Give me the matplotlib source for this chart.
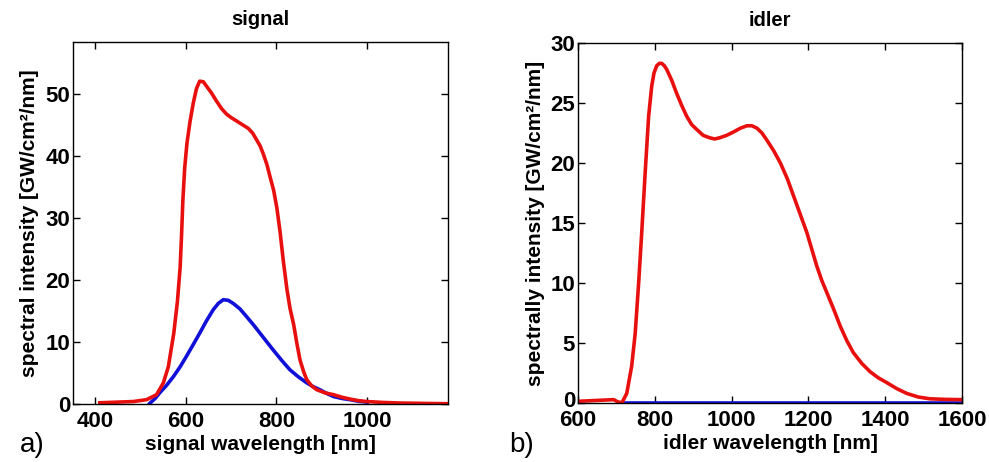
import numpy as np
import matplotlib
matplotlib.use("Agg")
import matplotlib.pyplot as plt
from matplotlib.transforms import ScaledTranslation

plt.rcParams['font.family'] = ['Liberation Sans', 'DejaVu Sans']
plt.rcParams['font.weight'] = 'bold'

# signal panel (a)
sig_red_x = [411, 485, 514, 536, 551, 562, 574, 582, 588, 591, 594, 598, 603, 610, 617, 624, 631,
             639, 646, 657, 668, 679, 690, 701, 712, 725, 738, 748, 756, 764, 771, 779, 786, 794,
             801, 808, 815, 823, 830, 838, 845, 852, 860, 867, 878, 889, 907, 926, 944, 962, 980,
             999, 1036, 1073, 1125, 1178]
sig_red_y = [0.2, 0.4, 0.7, 1.5, 3.4, 6.0, 11.4, 16.5, 22.0, 27.0, 32.8, 38.0, 42.0, 45.6, 48.5,
             50.8, 52.0, 51.9, 51.2, 50.1, 48.8, 47.6, 46.7, 46.1, 45.6, 45.0, 44.4, 43.6, 42.6,
             41.6, 40.3, 38.6, 36.6, 34.4, 31.6, 27.8, 23.2, 18.6, 15.4, 12.8, 9.8, 7.1, 5.2, 3.9,
             2.9, 2.3, 1.8, 1.5, 1.1, 0.8, 0.55, 0.4, 0.25, 0.16, 0.1, 0.05]
sig_blue_x = [521, 533, 543, 558, 573, 588, 602, 617, 631, 646, 661, 672, 683, 694, 705, 720, 734,
              749, 764, 779, 793, 812, 830, 848, 867, 881, 896, 911, 926, 944, 962, 981, 1000]
sig_blue_y = [0.1, 0.9, 1.8, 3.0, 4.4, 6.0, 7.7, 9.6, 11.4, 13.4, 15.2, 16.2, 16.8, 16.7, 16.2,
              15.3, 14.1, 12.8, 11.4, 10.0, 8.7, 7.0, 5.5, 4.4, 3.4, 2.8, 2.3, 1.7, 1.2, 0.9, 0.7,
              0.45, 0.3]

# idler panel (b)
idl_red_x = [600, 693, 701, 714, 727, 740, 749, 758, 766, 775, 784, 792, 798, 805, 812, 818, 825,
             831, 844, 857, 870, 883, 896, 909, 926, 943, 956, 969, 987, 1006, 1023, 1040, 1053,
             1066, 1079, 1092, 1110, 1127, 1145, 1162, 1179, 1196, 1209, 1222, 1235, 1248, 1266,
             1283, 1300, 1317, 1339, 1361, 1382, 1404, 1430, 1456, 1486, 1516, 1558, 1600]
idl_red_y = [0.14, 0.28, 0.14, 0.0, 0.8, 3.1, 5.8, 10.0, 14.2, 19.2, 23.9, 26.4, 27.5, 28.1, 28.3,
             28.3, 28.1, 27.8, 26.9, 25.8, 24.8, 23.9, 23.2, 22.8, 22.3, 22.1, 22.0, 22.1, 22.3,
             22.6, 22.9, 23.1, 23.1, 22.9, 22.5, 21.9, 21.0, 20.0, 18.7, 17.2, 15.7, 14.2, 12.8,
             11.4, 10.2, 9.2, 7.8, 6.4, 5.2, 4.2, 3.3, 2.6, 2.1, 1.7, 1.2, 0.8, 0.5, 0.35, 0.3, 0.28]
idl_blue_x = [715, 1600]
idl_blue_y = [0.0, 0.0]

red = '#e8100e'
blue = '#1010d8'

fig = plt.figure(figsize=(9.89, 4.62), dpi=100)
ax1 = fig.add_axes([0.0738, 0.1255, 0.3792, 0.7835])
ax2 = fig.add_axes([0.5844, 0.1277, 0.3883, 0.7793])

ax1.plot(sig_blue_x, sig_blue_y, color=blue, lw=2.6)
ax1.plot(sig_red_x, sig_red_y, color=red, lw=2.6)
ax1.set_xlim(352, 1178)
ax1.set_ylim(0, 58.3)
ax1.set_xticks([400, 600, 800, 1000])
ax1.set_yticks([0, 10, 20, 30, 40, 50])
ax1.set_title("signal", fontsize=14.5, fontweight='bold', pad=12)
ax1.set_xlabel("signal wavelength [nm]", fontsize=15, fontweight='bold', labelpad=2)
ax1.set_ylabel("spectral intensity [GW/cm²/nm]", fontsize=15, fontweight='bold', labelpad=5)

ax2.plot(idl_blue_x, idl_blue_y, color=blue, lw=2.6)
ax2.plot(idl_red_x, idl_red_y, color=red, lw=2.6)
ax2.set_xlim(600, 1600)
ax2.set_ylim(0, 30)
ax2.set_xticks([600, 800, 1000, 1200, 1400, 1600])
ax2.set_yticks([0, 5, 10, 15, 20, 25, 30])
ax2.set_title("idler", fontsize=14.5, fontweight='bold', pad=12)
ax2.set_xlabel("idler wavelength [nm]", fontsize=15, fontweight='bold', labelpad=2)
ax2.set_ylabel("spectrally intensity [GW/cm²/nm]", fontsize=15, fontweight='bold', labelpad=4)

for ax in (ax1, ax2):
    ax.tick_params(direction='in', top=True, right=True, labelsize=16, length=5, width=1)
    ax.tick_params(axis='x', pad=5)
    ax.tick_params(axis='y', pad=2)
    for lab in ax.get_xticklabels() + ax.get_yticklabels():
        lab.set_fontweight('bold')
    for s in ax.spines.values():
        s.set_linewidth(1)

# the "0" on the idler y axis sits a little higher, clear of "600"
zero_lab = ax2.get_yticklabels()[0]
zero_lab.set_transform(zero_lab.get_transform() + ScaledTranslation(0, 3 / 72, fig.dpi_scale_trans))

fig.text(0.020, 0.022, "a)", fontsize=20, fontweight='normal')
fig.text(0.515, 0.022, "b)", fontsize=20, fontweight='normal')

fig.savefig("out.png", dpi=100)
